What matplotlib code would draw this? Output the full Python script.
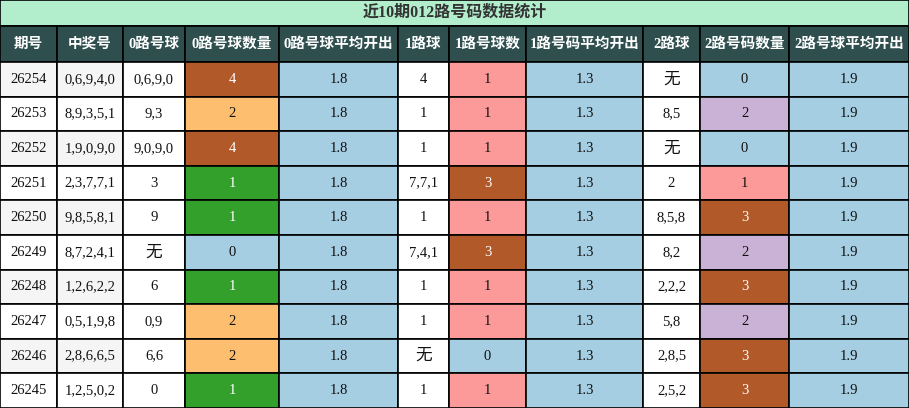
import matplotlib
matplotlib.use("Agg")
import matplotlib.pyplot as plt
from matplotlib.patches import Rectangle

FONT = ["Liberation Serif", "Noto Sans CJK SC"]

title = "近10期012路号码数据统计"
headers = ["期号", "中奖号", "0路号球", "0路号球数量", "0路号球平均开出", "1路球",
           "1路号球数", "1路号码平均开出", "2路球", "2路号码数量", "2路号球平均开出"]
col_edges = [0, 57, 123, 185, 279, 398, 449, 526, 643, 700, 789, 909]

issues = ["26254", "26253", "26252", "26251", "26250", "26249", "26248", "26247", "26246", "26245"]
draws = ["0,6,9,4,0", "8,9,3,5,1", "1,9,0,9,0", "2,3,7,7,1", "9,8,5,8,1",
         "8,7,2,4,1", "1,2,6,2,2", "0,5,1,9,8", "2,8,6,6,5", "1,2,5,0,2"]
road0 = ["0,6,9,0", "9,3", "9,0,9,0", "3", "9", "无", "6", "0,9", "6,6", "0"]
cnt0 = [4, 2, 4, 1, 1, 0, 1, 2, 2, 1]
avg0 = ["1.8"] * 10
road1 = ["4", "1", "1", "7,7,1", "1", "7,4,1", "1", "1", "无", "1"]
cnt1 = [1, 1, 1, 3, 1, 3, 1, 1, 0, 1]
avg1 = ["1.3"] * 10
road2 = ["无", "8,5", "无", "2", "8,5,8", "8,2", "2,2,2", "5,8", "2,8,5", "2,5,2"]
cnt2 = [0, 2, 0, 1, 3, 2, 3, 2, 3, 3]
avg2 = ["1.9"] * 10

c0_colors = {4: "#b15928", 2: "#fdbf6f", 1: "#33a02c", 0: "#a6cee3"}
c1_colors = {1: "#fb9a99", 3: "#b15928", 0: "#a6cee3"}
c2_colors = {0: "#a6cee3", 2: "#cab2d6", 1: "#fb9a99", 3: "#b15928"}
dark = {"#b15928", "#33a02c"}
avg_color = "#a6cee3"

W, H = 909, 408
fig = plt.figure(figsize=(W / 100, H / 100), dpi=100)
ax = fig.add_axes([0, 0, 1, 1])
ax.set_xlim(0, W)
ax.set_ylim(H, 0)
ax.axis("off")

def cell(x0, x1, y0, y1, fc, text, color="#111111", bold=False, size=10.5):
    ax.add_patch(Rectangle((x0, y0), x1 - x0, y1 - y0, facecolor=fc,
                           edgecolor="black", linewidth=1.2))
    ax.text((x0 + x1) / 2, (y0 + y1) / 2, text, ha="center", va="center",
            color=color, fontsize=size, family=FONT,
            fontweight="bold" if bold else "normal")

cell(0, W, 0, 26, "#b3eecc", title, color="#333333", bold=True, size=11.5)
for i, h in enumerate(headers):
    cell(col_edges[i], col_edges[i + 1], 26, 62, "#2f4f4f", h, color="white", bold=True, size=10.5)

row_h = (H - 62) / 10
for r in range(10):
    y0 = 62 + r * row_h
    y1 = y0 + row_h
    stripe = "#f5f5f5" if r % 2 == 0 else "white"
    vals = [issues[r], draws[r], road0[r], str(cnt0[r]), avg0[r], road1[r],
            str(cnt1[r]), avg1[r], road2[r], str(cnt2[r]), avg2[r]]
    fills = [stripe, stripe, "white", c0_colors[cnt0[r]], avg_color, "white",
             c1_colors[cnt1[r]], avg_color, "white", c2_colors[cnt2[r]], avg_color]
    for c in range(11):
        fc = fills[c]
        tc = "white" if fc in dark else "#111111"
        size = 12 if vals[c] == "无" else 10.5
        cell(col_edges[c], col_edges[c + 1], y0, y1, fc, vals[c], color=tc, size=size)

fig.savefig("out.png", dpi=100)
